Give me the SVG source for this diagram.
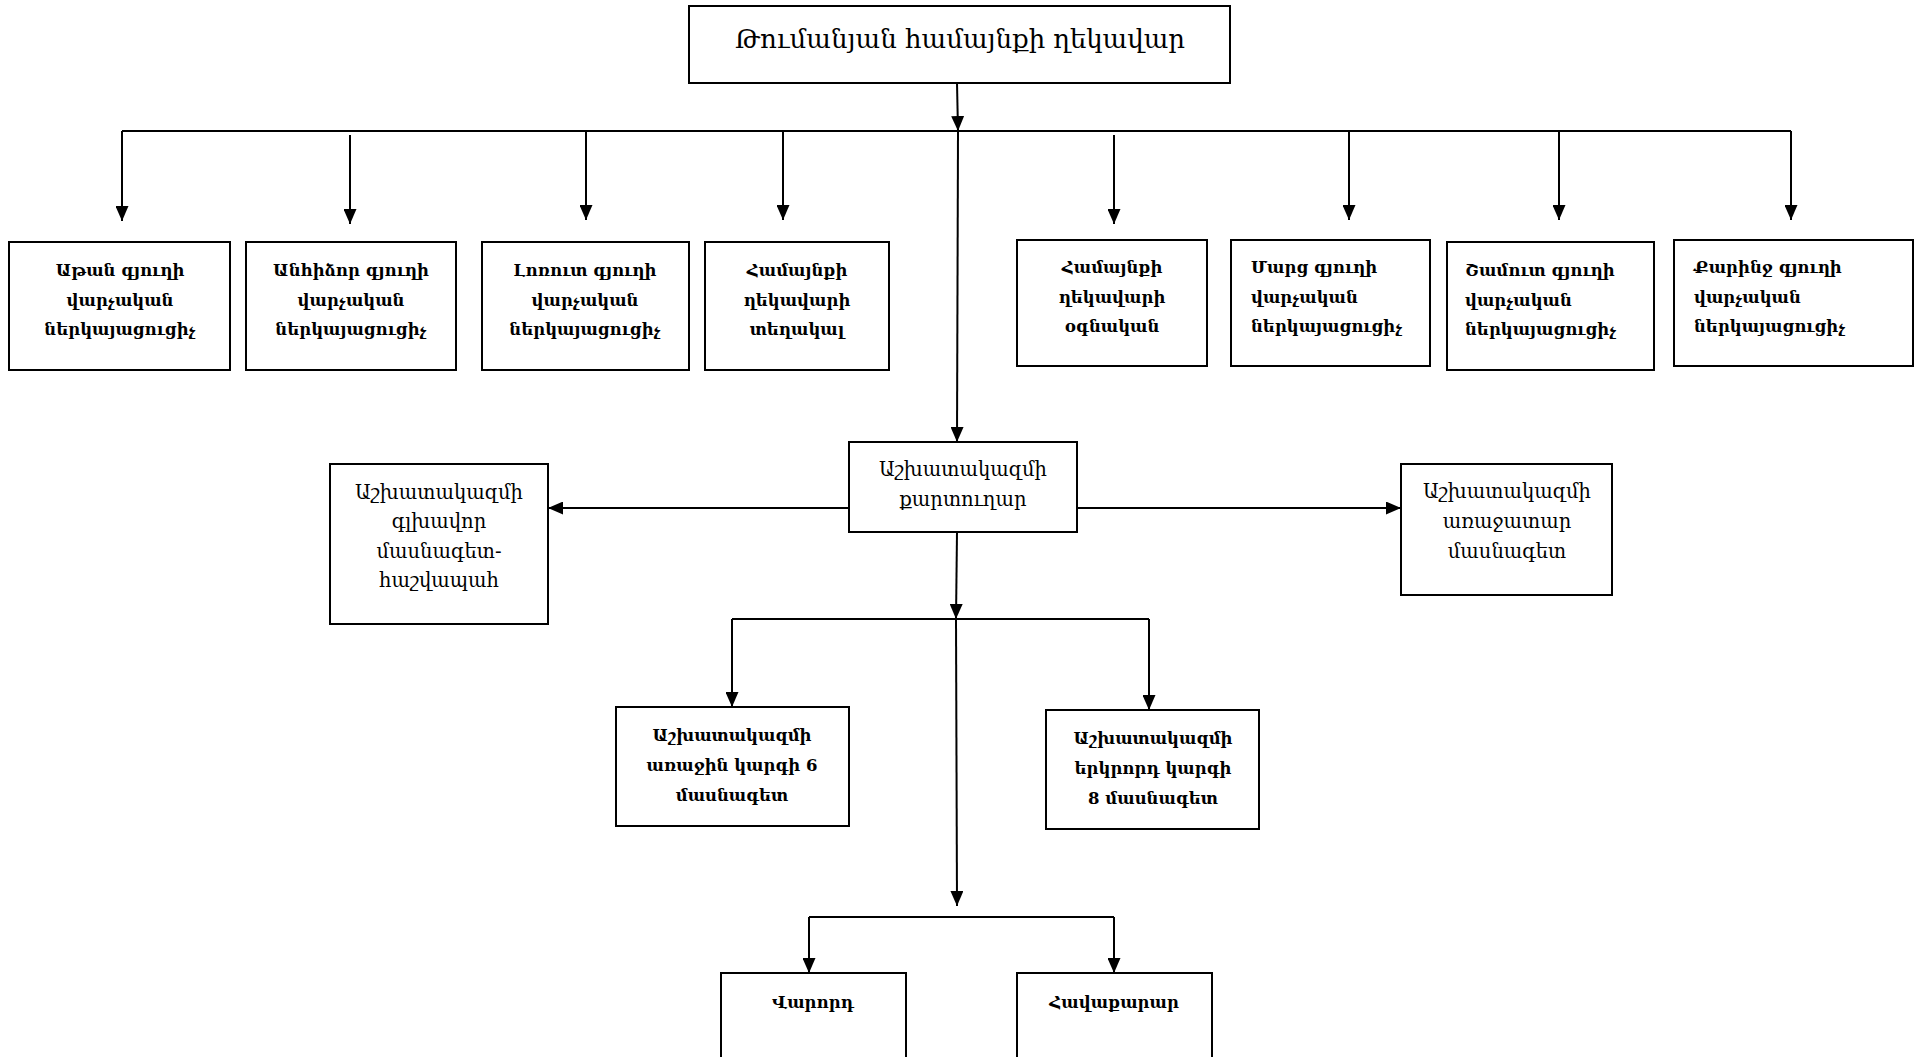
<svg xmlns="http://www.w3.org/2000/svg" width="1919" height="1057" viewBox="0 0 1919 1057">
<defs>
<marker id="ah" markerUnits="userSpaceOnUse" markerWidth="15" markerHeight="13" viewBox="0 0 15 13" refX="15" refY="6.5" orient="auto">
<path d="M0,0 L15,6.5 L0,13 Z" fill="#000"/>
</marker>
<style>
.box{fill:#fff;stroke:#000;stroke-width:2}
.ln{fill:none;stroke:#000;stroke-width:2}
.ar{fill:none;stroke:#000;stroke-width:2;marker-end:url(#ah)}
text{font-family:"DejaVu Serif","Noto Serif Armenian","Noto Sans Armenian",serif;fill:#000}
.t{font-size:26px;text-anchor:middle}
.b{font-size:16.5px;font-weight:bold;text-anchor:middle}
.bl{font-size:16.5px;font-weight:bold;text-anchor:start}
.m{font-size:19.5px;text-anchor:middle}
</style>
</defs>
<rect width="1919" height="1057" fill="#fff"/>
<g id="connectors">
<line class="ar" x1="957" y1="83" x2="958" y2="131"/>
<line class="ln" x1="122" y1="131" x2="1791" y2="131"/>
<line class="ar" x1="122" y1="131" x2="122" y2="221"/>
<line class="ar" x1="350" y1="135" x2="350" y2="224"/>
<line class="ar" x1="586" y1="131" x2="586" y2="220"/>
<line class="ar" x1="783" y1="131" x2="783" y2="220"/>
<line class="ar" x1="1114" y1="135" x2="1114" y2="224"/>
<line class="ar" x1="1349" y1="131" x2="1349" y2="220"/>
<line class="ar" x1="1559" y1="131" x2="1559" y2="220"/>
<line class="ar" x1="1791" y1="131" x2="1791" y2="220"/>
<line class="ar" x1="958" y1="131" x2="957" y2="442"/>
<line class="ar" x1="849" y1="508" x2="548" y2="508"/>
<line class="ar" x1="1077" y1="508" x2="1401" y2="508"/>
<line class="ar" x1="957" y1="532" x2="956" y2="619"/>
<line class="ln" x1="732" y1="619" x2="1149" y2="619"/>
<line class="ar" x1="732" y1="619" x2="732" y2="707"/>
<line class="ar" x1="1149" y1="619" x2="1149" y2="710"/>
<line class="ar" x1="956" y1="619" x2="957" y2="906"/>
<line class="ln" x1="809" y1="917" x2="1114" y2="917"/>
<line class="ar" x1="809" y1="917" x2="809" y2="973"/>
<line class="ar" x1="1114" y1="917" x2="1114" y2="973"/>
</g>
<g id="n-head"><rect class="box" x="689" y="6" width="541" height="77"/><text class="t" x="960" y="48">Թումանյան համայնքի ղեկավար</text></g>
<g id="n-atan"><rect class="box" x="9" y="242" width="221" height="128"/><text class="b" x="120" y="276">Աթան գյուղի</text><text class="b" x="120" y="306">վարչական</text><text class="b" x="120" y="335">ներկայացուցիչ</text></g>
<g id="n-anhidzor"><rect class="box" x="246" y="242" width="210" height="128"/><text class="b" x="351" y="276">Անհիձոր գյուղի</text><text class="b" x="351" y="306">վարչական</text><text class="b" x="351" y="335">ներկայացուցիչ</text></g>
<g id="n-lorut"><rect class="box" x="482" y="242" width="207" height="128"/><text class="b" x="585" y="276">Լոռուտ գյուղի</text><text class="b" x="585" y="306">վարչական</text><text class="b" x="585" y="335">ներկայացուցիչ</text></g>
<g id="n-deputy"><rect class="box" x="705" y="242" width="184" height="128"/><text class="b" x="797" y="276">Համայնքի</text><text class="b" x="797" y="306">ղեկավարի</text><text class="b" x="797" y="335">տեղակալ</text></g>
<g id="n-assistant"><rect class="box" x="1017" y="240" width="190" height="126"/><text class="b" x="1112" y="273">Համայնքի</text><text class="b" x="1112" y="303">ղեկավարի</text><text class="b" x="1112" y="332">օգնական</text></g>
<g id="n-marts"><rect class="box" x="1231" y="240" width="199" height="126"/><text class="bl" x="1251" y="273">Մարց գյուղի</text><text class="bl" x="1251" y="303">վարչական</text><text class="bl" x="1251" y="332">ներկայացուցիչ</text></g>
<g id="n-shamut"><rect class="box" x="1447" y="242" width="207" height="128"/><text class="bl" x="1465" y="276">Շամուտ գյուղի</text><text class="bl" x="1465" y="306">վարչական</text><text class="bl" x="1465" y="335">ներկայացուցիչ</text></g>
<g id="n-karinj"><rect class="box" x="1674" y="240" width="239" height="126"/><text class="bl" x="1694" y="273">Քարինջ գյուղի</text><text class="bl" x="1694" y="303">վարչական</text><text class="bl" x="1694" y="332">ներկայացուցիչ</text></g>
<g id="n-secretary"><rect class="box" x="849" y="442" width="228" height="90"/><text class="m" x="963" y="476">Աշխատակազմի</text><text class="m" x="963" y="506">քարտուղար</text></g>
<g id="n-accountant"><rect class="box" x="330" y="464" width="218" height="160"/><text class="m" x="439" y="499">Աշխատակազմի</text><text class="m" x="439" y="528">գլխավոր</text><text class="m" x="439" y="558">մասնագետ-</text><text class="m" x="439" y="587">հաշվապահ</text></g>
<g id="n-leading"><rect class="box" x="1401" y="464" width="211" height="131"/><text class="m" x="1507" y="498">Աշխատակազմի</text><text class="m" x="1507" y="528">առաջատար</text><text class="m" x="1507" y="558">մասնագետ</text></g>
<g id="n-first"><rect class="box" x="616" y="707" width="233" height="119"/><text class="b" x="732" y="741">Աշխատակազմի</text><text class="b" x="732" y="771">առաջին կարգի 6</text><text class="b" x="732" y="801">մասնագետ</text></g>
<g id="n-second"><rect class="box" x="1046" y="710" width="213" height="119"/><text class="b" x="1153" y="744">Աշխատակազմի</text><text class="b" x="1153" y="774">երկրորդ կարգի</text><text class="b" x="1153" y="804">8 մասնագետ</text></g>
<g id="n-driver"><rect class="box" x="721" y="973" width="185" height="100"/><text class="b" x="813" y="1008">Վարորդ</text></g>
<g id="n-cleaner"><rect class="box" x="1017" y="973" width="195" height="100"/><text class="b" x="1114" y="1008">Հավաքարար</text></g>
</svg>
